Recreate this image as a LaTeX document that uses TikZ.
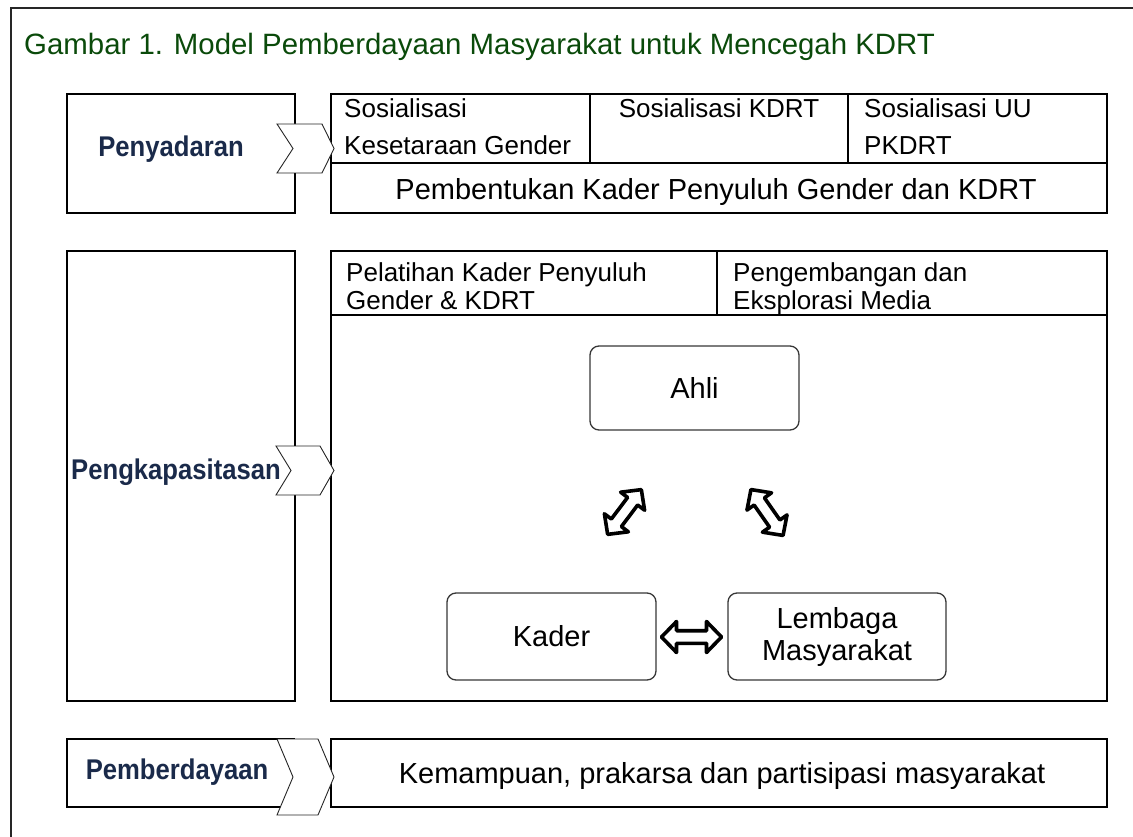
\documentclass[tikz,border=0pt]{standalone}
\usepackage{fontspec}
\setmainfont{Liberation Sans}
\newfontfamily\lblfont[FakeStretch=0.9]{Liberation Sans}
\definecolor{titlegreen}{RGB}{10,74,10}
\definecolor{lblnavy}{RGB}{26,42,74}
\definecolor{rboxline}{RGB}{55,55,55}
\begin{document}
\begin{tikzpicture}[x=1pt,y=-1pt,
  frame/.style={draw=black, line width=2.6pt},
  cellline/.style={draw=black, line width=2pt},
  chev/.style={draw=black!85, fill=white, line width=0.9pt, line join=miter},
  lbl/.style={font=\lblfont\bfseries\fontsize{28.5}{32}\selectfont, text=lblnavy, inner sep=0},
  cell/.style={font=\fontsize{26}{30}\selectfont, inner sep=0, anchor=base west},
  big/.style={font=\fontsize{29}{34}\selectfont, inner sep=0, anchor=base},
  rbox/.style={draw=rboxline, line width=1.3pt, rounded corners=9pt, fill=white, align=center, inner sep=0,
               font=\fontsize{29}{32}\selectfont},
  dbl/.style={draw=black, fill=white, line width=3.6pt, line join=round}
]
\useasboundingbox (0,0) rectangle (1133,837);
% outer frame (left and top only)
\draw[line width=2pt, draw=black!85] (10.5,837) -- (10.5,8) -- (1133,8);
% title
\node[anchor=base west, inner sep=0, text=titlegreen, font=\fontsize{29.4}{34}\selectfont] (title) at (24,55)
  {Gambar 1. Model Pemberdayaan Masyarakat untuk Mencegah KDRT};

% ---------- Row 1 ----------
\draw[frame] (67,94) rectangle (295,213);
\draw[frame] (331,94) rectangle (1107,213);
\draw[cellline] (331,163) -- (1107,163);
\draw[cellline] (590,94) -- (590,163);
\draw[cellline] (848,94) -- (848,163);
\node[lbl] (peny) at (171,149) {Penyadaran};
\node[cell] (s1a) at (344,118) {Sosialisasi};
\node[cell] (s1b) at (344,155) {Kesetaraan Gender};
\node[cell, anchor=base] (s2) at (719,118) {Sosialisasi KDRT};
\node[cell] (s3a) at (864,118) {Sosialisasi UU};
\node[cell] (s3b) at (864,155) {PKDRT};
\node[big] (pemb) at (716,200) {Pembentukan Kader Penyuluh Gender dan KDRT};
\draw[chev] (277,124) -- (322,124) -- (334,148.5) -- (322,173) -- (277,173) -- (293,148.5) -- cycle;

% ---------- Row 2 ----------
\draw[frame] (67,251) rectangle (295,701);
\draw[frame] (331,251) rectangle (1107,701);
\draw[cellline] (331,315) -- (1107,315);
\draw[cellline] (717,251) -- (717,315);
\node[lbl] (pengk) at (176,472) {Pengkapasitasan};
\node[cell] (p1a) at (346,282) {Pelatihan Kader Penyuluh};
\node[cell] (p1b) at (346,309) {Gender \& KDRT};
\node[cell] (p2a) at (733,282) {Pengembangan dan};
\node[cell] (p2b) at (733,309) {Eksplorasi Media};
\draw[chev] (276,446) -- (320,446) -- (334,470.5) -- (320,495) -- (276,495) -- (291,470.5) -- cycle;

\node[rbox, minimum width=209pt, minimum height=84pt] (ahli) at (694.5,388) {Ahli};
\node[rbox, minimum width=209pt, minimum height=87pt] (kader) at (551.5,636.5) {Kader};
\node[rbox, minimum width=218pt, minimum height=87pt] (lemb) at (837,636.5) {Lembaga\\Masyarakat};

% double arrows
\draw[dbl, shift={(691.5,637)}]
  (-30,0) -- (-15,15.5) -- (-15,6.3) -- (15,6.3) -- (15,15.5) -- (30,0) -- (15,-15.5) -- (15,-6.3) -- (-15,-6.3) -- (-15,-15.5) -- cycle;
\draw[dbl, shift={(624.5,512)}, rotate=53]
  (-28,0) -- (-13.5,15) -- (-13.5,6.3) -- (13.5,6.3) -- (13.5,15) -- (28,0) -- (13.5,-15) -- (13.5,-6.3) -- (-13.5,-6.3) -- (-13.5,-15) -- cycle;
\draw[dbl, shift={(767,512.5)}, rotate=-55]
  (-28,0) -- (-13.5,15) -- (-13.5,6.3) -- (13.5,6.3) -- (13.5,15) -- (28,0) -- (13.5,-15) -- (13.5,-6.3) -- (-13.5,-6.3) -- (-13.5,-15) -- cycle;

% ---------- Row 3 ----------
\draw[frame] (67,739) rectangle (294,807);
\draw[frame] (331,739) rectangle (1107,807);
\node[lbl] (pemd) at (177,772) {Pemberdayaan};
\node[big] (kemp) at (722,783) {Kemampuan, prakarsa dan partisipasi masyarakat};
\draw[chev] (277,739) -- (318,739) -- (334,777) -- (318,815) -- (277,815) -- (293,777) -- cycle;
\end{tikzpicture}
\end{document}
